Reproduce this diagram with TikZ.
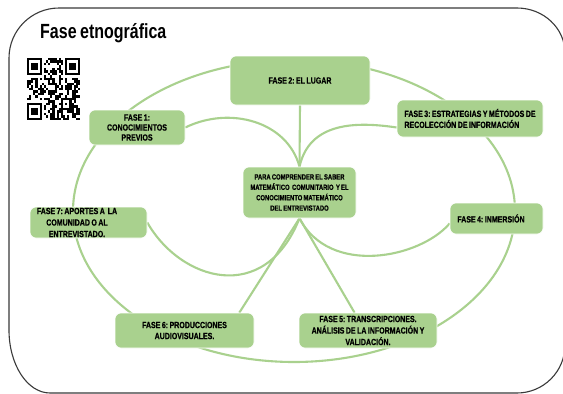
\documentclass[tikz,border=0pt]{standalone}
\usepackage{fontspec}
\setmainfont{Liberation Sans}[FakeStretch=0.78, WordSpace=0.8]
\newfontfamily\boxfont{Liberation Sans Bold}[FakeStretch=0.78, WordSpace=0.75, FakeBold=0.6]
\usetikzlibrary{shapes.geometric}
\pgfdeclarelayer{bg}
\pgfsetlayers{bg,main}
\definecolor{grn}{HTML}{A9D18E}
\definecolor{framec}{HTML}{3A3A3A}
\begin{document}
\frenchspacing
\begin{tikzpicture}[x=1pt,y=-1pt,
  box/.style={fill=grn, draw=white, line width=0.6pt, rounded corners=6pt, inner sep=0pt,
    font=\boxfont\frenchspacing\fontsize{9}{11}\selectfont, align=center, text=black},
  link/.style={draw=grn, line width=2.1pt},
  boxtxt/.style={font=\boxfont\frenchspacing\fontsize{9}{11.5}\selectfont, align=center, inner sep=0pt},
  qrmod/.style={fill=black}]
\useasboundingbox (0,0) rectangle (563,394);
\begin{pgfonlayer}{bg}
\fill[white] (0,0) rectangle (563,394);
\node[ellipse, draw=grn, line width=2.1pt, minimum width=442pt, minimum height=302pt, inner sep=0pt] (ring) at (294,211) {};
\end{pgfonlayer}

% frame
\draw[framec, line width=1.1pt]
  (59,8) -- (517,8) .. controls (543.5,8) and (565,28.2) .. (565,53)
  -- (565,345) .. controls (565,371.5) and (543.5,393) .. (517,393)
  -- (50,393) .. controls (27.4,393) and (9,364.8) .. (9,330)
  -- (9,58) .. controls (9,30.4) and (31.4,8) .. (59,8) -- cycle;

% title
\node[anchor=base west, inner sep=0pt, font=\bfseries\fontsize{20.5}{24}\selectfont] (title) at (40,38) {Fase etnográfica};

% QR code
\def\qx{27}\def\qy{58}\def\mw{2.12}\def\mh{2.48}
\pgfmathsetseed{11}
\foreach \i in {0,...,24}{
  \foreach \j in {0,...,24}{
    \pgfmathtruncatemacro{\inf}{((\i<8)&&(\j<8))||((\i>16)&&(\j<8))||((\i<8)&&(\j>16))||((\i>15)&&(\i<21)&&(\j>15)&&(\j<21))}
    \pgfmathrandominteger{\rq}{0}{1}
    \ifnum\inf=0 \ifnum\rq=1
      \fill[qrmod] ({\qx+\i*\mw},{\qy+\j*\mh}) rectangle ++(\mw,\mh);
    \fi\fi
  }
}
\foreach \fx/\fy in {0/0,18/0,0/18}{
  \fill[qrmod] ({\qx+\fx*\mw},{\qy+\fy*\mh}) rectangle ++({7*\mw},{7*\mh});
  \fill[white] ({\qx+(\fx+1)*\mw},{\qy+(\fy+1)*\mh}) rectangle ++({5*\mw},{5*\mh});
  \fill[qrmod] ({\qx+(\fx+2)*\mw},{\qy+(\fy+2)*\mh}) rectangle ++({3*\mw},{3*\mh});
}
\fill[qrmod] ({\qx+16*\mw},{\qy+16*\mh}) rectangle ++({5*\mw},{5*\mh});
\fill[white] ({\qx+17*\mw},{\qy+17*\mh}) rectangle ++({3*\mw},{3*\mh});
\fill[qrmod] ({\qx+18*\mw},{\qy+18*\mh}) rectangle ++({\mw},{\mh});

% boxes
\node[box, minimum width=140pt, minimum height=49pt] (f2) at (300,80.5) {FASE 2: EL LUGAR};
\node[box, minimum width=96pt, minimum height=35pt, font=\boxfont\fontsize{9}{10}\selectfont] (f1) at (137,127.5) {FASE 1:\\CONOCIMIENTOS\\PREVIOS};
\node[box, minimum width=146pt, minimum height=37pt, align=left] (f3) at (470,118.5) {FASE 3: ESTRATEGIAS Y MÉTODOS DE\\RECOLECCIÓN DE INFORMACIÓN};
\node[box, minimum width=113pt, minimum height=51pt, font=\boxfont\frenchspacing\fontsize{7.5}{10.4}\selectfont] (c) at (299.5,192.5) {PARA COMPRENDER EL SABER\\MATEMÁTICO~ COMUNITARIO~ Y EL\\CONOCIMIENTO MATEMÁTICO\\DEL ENTREVISTADO};
\node[box, minimum width=93pt, minimum height=31pt] (f4) at (496.5,218.5) {FASE 4: INMERSIÓN\hspace*{11pt}};
\node[box, minimum width=117pt, minimum height=31pt] (f7) at (88.5,222.5) {};
\node[boxtxt] (t7) at (77,222.5) {FASE 7: APORTES A~~LA\\COMUNIDAD O AL\\ENTREVISTADO.};
\node[box, minimum width=139pt, minimum height=35pt] (f6) at (184.5,330.5) {FASE 6: PRODUCCIONES\\AUDIOVISUALES.};
\node[box, minimum width=138pt, minimum height=35pt, font=\boxfont\frenchspacing\fontsize{9}{11.5}\selectfont] (f5) at (368,330.5) {FASE 5: TRANSCRIPCIONES.\\ANÁLISIS DE LA INFORMACIÓN Y\\VALIDACIÓN.};

% connectors
\begin{pgfonlayer}{bg}
\draw[link] (f2.south) -- (c.north);
\draw[link] (f1.east) .. controls +(45,-22) and +(-12,-45) .. (c.north);
\draw[link] (f3.187) .. controls +(-40,-6) and +(10,-45) .. (c.north);
\draw[link] (f7.east) .. controls +(33,58) and +(-35,88) .. (c.south);
\draw[link] (f4.186) .. controls +(-30,35) and +(30,58) .. (c.south);
\draw[link] (c.south) -- (f6.18);
\draw[link] (c.south) -- (f5.127);
\end{pgfonlayer}
\end{tikzpicture}
\end{document}
